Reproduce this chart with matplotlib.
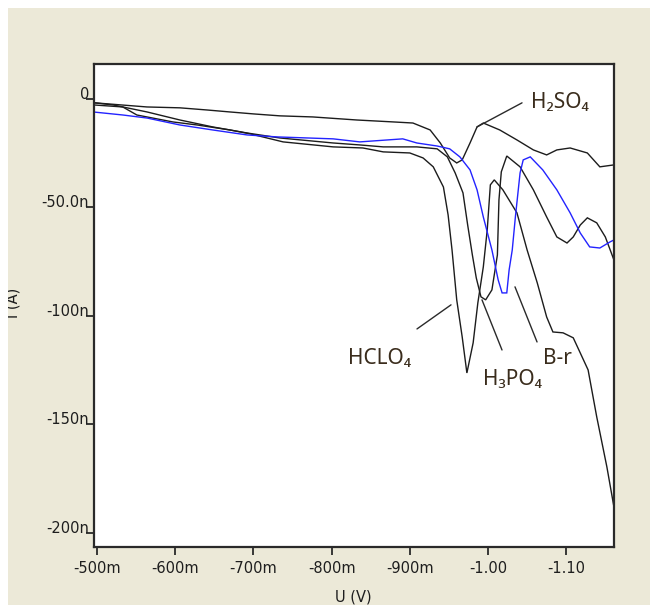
import matplotlib
matplotlib.use("Agg")
import matplotlib.pyplot as plt
from matplotlib.patches import Rectangle
from matplotlib.transforms import Bbox, TransformedBbox

# ---- data: potential (V) and current (nA) -------------------------------
v_h2so4 = [-0.497, -0.564, -0.606, -0.641, -0.670, -0.700, -0.734, -0.776, -0.832, -0.879,
           -0.904, -0.926, -0.939, -0.951, -0.960, -0.967, -0.977, -0.986, -0.994, -1.015,
           -1.037, -1.058, -1.075, -1.088, -1.105, -1.127, -1.143, -1.161]
i_h2so4 = [-1.8, -3.7, -4.1, -5.1, -6.0, -6.9, -7.8, -8.3, -9.7, -10.6,
           -11.1, -14.3, -20.3, -27.2, -29.5, -28.1, -20.3, -12.9, -11.1, -14.3,
           -18.9, -23.5, -25.8, -23.5, -22.6, -24.9, -31.3, -30.4]

v_hclo4 = [-0.497, -0.533, -0.551, -0.597, -0.628, -0.670, -0.696, -0.738, -0.802, -0.840,
           -0.866, -0.900, -0.917, -0.930, -0.943, -0.949, -0.954, -0.960, -0.967, -0.973,
           -0.981, -0.987, -0.994, -0.999, -1.003, -1.008, -1.019, -1.037, -1.050, -1.063,
           -1.075, -1.083, -1.096, -1.109, -1.118, -1.128, -1.139, -1.152, -1.161]
i_hclo4 = [-2.8, -3.7, -7.4, -10.6, -12.0, -14.3, -16.1, -19.8, -22.1, -22.6,
           -24.4, -24.9, -27.2, -31.3, -40.6, -53.5, -69.6, -92.6, -109.7, -126.3,
           -112.4, -94.0, -77.4, -60.4, -39.6, -37.3, -41.9, -52.5, -69.6, -84.8,
           -100.5, -107.4, -107.8, -110.1, -117.1, -124.9, -146.5, -169.6, -188.0]

v_h3po4 = [-0.497, -0.521, -0.564, -0.606, -0.648, -0.692, -0.734, -0.802, -0.836, -0.866,
           -0.909, -0.935, -0.948, -0.958, -0.968, -0.974, -0.980, -0.985, -0.991, -0.997,
           -1.005, -1.012, -1.014, -1.017, -1.024, -1.041, -1.058, -1.075, -1.088, -1.101,
           -1.109, -1.118, -1.127, -1.139, -1.150, -1.161]
i_h3po4 = [-1.8, -2.8, -6.0, -9.7, -12.9, -15.7, -18.0, -20.3, -21.2, -22.1,
           -22.1, -23.0, -26.7, -34.1, -43.3, -58.1, -71.9, -82.5, -91.2, -92.6,
           -88.0, -71.9, -46.5, -33.6, -26.3, -31.3, -41.9, -54.4, -63.6, -66.4,
           -63.6, -58.1, -54.8, -57.1, -63.6, -74.2]

v_br = [-0.495, -0.533, -0.564, -0.606, -0.648, -0.692, -0.730, -0.802, -0.836, -0.891,
        -0.909, -0.935, -0.951, -0.964, -0.977, -0.986, -0.994, -1.005, -1.013, -1.018,
        -1.024, -1.027, -1.031, -1.035, -1.041, -1.045, -1.054, -1.070, -1.088, -1.105,
        -1.118, -1.130, -1.143, -1.156, -1.161]
i_br = [-6.0, -7.4, -8.8, -12.0, -14.3, -16.6, -17.5, -18.4, -19.8, -18.4,
        -20.3, -21.7, -23.0, -26.7, -32.7, -41.9, -54.4, -69.6, -83.4, -89.4,
        -89.4, -78.8, -69.6, -54.4, -34.1, -28.1, -26.7, -32.7, -41.9, -52.5,
        -61.8, -68.2, -68.7, -65.9, -65.0]

x_ticks = [-0.5, -0.6, -0.7, -0.8, -0.9, -1.0, -1.1]
x_tick_labels = ["-500m", "-600m", "-700m", "-800m", "-900m", "-1.00", "-1.10"]
y_ticks = [0, -50, -100, -150, -200]
y_tick_labels = ["0", "-50.0n", "-100n", "-150n", "-200n"]

# ---- figure ---------------------------------------------------------------
W, H = 656, 605
fig = plt.figure(figsize=(W / 100, H / 100), dpi=100, facecolor="white")


def fx(px):
    return px / W


def fy(py):
    return 1 - py / H


panel_box = Bbox.from_extents(fx(8), 0, fx(650), fy(8))
panel = Rectangle((panel_box.x0, panel_box.y0), panel_box.width, panel_box.height,
                  transform=fig.transFigure, facecolor="#ECE9D8", edgecolor="none", zorder=-10)
fig.patches.append(panel)

ax = fig.add_axes([fx(94), fy(547), fx(614) - fx(94), fy(64) - fy(547)])
ax.set_zorder(1)
ax.set_facecolor("white")

line_kw = dict(lw=1.0, solid_joinstyle="miter")
ax.plot(v_h2so4, i_h2so4, color="#1c1c1c", **line_kw)
ax.plot(v_hclo4, i_hclo4, color="#1c1c1c", **line_kw)
ax.plot(v_h3po4, i_h3po4, color="#1c1c1c", **line_kw)
ax.plot(v_br, i_br, color="#2323ff", **line_kw)

ax.set_xlim(-0.4962, -1.1611)
ax.set_ylim(-206.5, 16.1)

for s in ax.spines.values():
    s.set_linewidth(1.6)
    s.set_color("#2a2a2a")

tick_font = dict(family="DejaVu Sans", size=10.5, color="#1e1e1e")
ax.set_xticks(x_ticks)
ax.set_xticklabels(x_tick_labels, **tick_font)
ax.set_yticks(y_ticks)
ax.set_yticklabels(y_tick_labels, va="baseline", **tick_font)
ax.tick_params(axis="both", direction="out", length=5.8, width=1.3, color="#2a2a2a")
ax.tick_params(axis="x", pad=4)
ax.tick_params(axis="y", pad=-2.2)

# axis titles, clipped by the panel edges
clip = TransformedBbox(panel_box, fig.transFigure)
t1 = fig.text(fx(353), fy(597), "U (V)", ha="center", va="center", zorder=2, **tick_font)
t2 = fig.text(fx(13), fy(303), "I (A)", ha="center", va="center", rotation=90, zorder=2, **tick_font)
for t in (t1, t2):
    t.set_clip_box(clip)
    t.set_clip_on(True)

# curve labels with leader lines
lab_font = dict(family=["Noto Sans", "DejaVu Sans"], size=15, color="#3a2c1c")
leader = dict(arrowstyle="-", color="#2a2a2a", lw=1.0, shrinkA=0, shrinkB=0)
ax.annotate("", xy=(-0.9859, -12.9), xytext=(-1.0435, -1.8), arrowprops=leader)
ax.text(-1.0550, -1.8, "H₂SO₄", ha="left", va="center", **lab_font)

ax.annotate("", xy=(-0.9527, -94.9), xytext=(-0.9092, -106.0), arrowprops=leader)
ax.text(-0.8619, -119.4, "HCLO₄", ha="center", va="center", **lab_font)

ax.annotate("", xy=(-0.9923, -92.6), xytext=(-1.0179, -115.7), arrowprops=leader)
ax.text(-1.0313, -129.5, "H₃PO₄", ha="center", va="center", **lab_font)

ax.annotate("", xy=(-1.0345, -86.6), xytext=(-1.0627, -112.0), arrowprops=leader)
ax.text(-1.0889, -119.4, "B-r", ha="center", va="center", **lab_font)

fig.savefig("out.png", dpi=100, facecolor="white")
